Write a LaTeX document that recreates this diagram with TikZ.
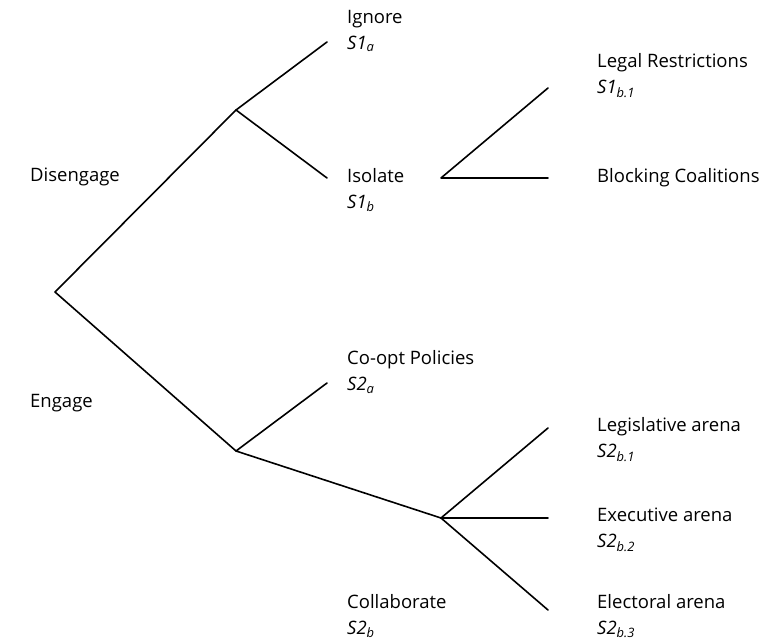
\documentclass[tikz,border=0pt]{standalone}
\usepackage{fontspec}
\setmainfont{Open Sans}
\usetikzlibrary{positioning}

\tikzset{
  branch/.style={line width=1.6pt, line cap=round, line join=round},
  lbl/.style={anchor=west, align=left, inner sep=0pt, font=\fontsize{18.5}{26}\selectfont}
}
\newcommand{\strat}[2]{\textit{S#1}\textsubscript{\textit{#2}}}

\begin{document}
\begin{tikzpicture}[x=1pt, y=-1pt]
    % 0. Page frame (same size as the reference)
    \useasboundingbox (0,0) rectangle (781,644);

    % 1. Branch points and free ends
    \coordinate (root) at (55,292);
    \coordinate (dis) at (236,110);
    \coordinate (eng) at (236,451);
    \coordinate (iso) at (441,178);
    \coordinate (col) at (441,518);
    \coordinate (ignEnd) at (327,42);
    \coordinate (isoEnd) at (327,178);
    \coordinate (legEnd) at (548,88);
    \coordinate (blkEnd) at (548,178);
    \coordinate (coEnd) at (327,383);
    \coordinate (lgsEnd) at (548,428);
    \coordinate (exeEnd) at (548,518);
    \coordinate (eleEnd) at (548,610);

    % 2. Labels
    \node[lbl] (disengage) at (30,177) {Disengage};
    \node[lbl] (engage) at (30,403) {Engage};
    \node[lbl] (ignore) at (347,31) {Ignore\\ \strat{1}{a}};
    \node[lbl] (isolate) at (347,190) {Isolate\\ \strat{1}{b}};
    \node[lbl] (coopt) at (347,372) {Co-opt Policies\\ \strat{2}{a}};
    \node[lbl] (collab) at (347,616) {Collaborate\\ \strat{2}{b}};
    \node[lbl] (legal) at (597,76) {Legal Restrictions\\ \strat{1}{b.1}};
    \node[lbl] (block) at (597,178) {Blocking Coalitions};
    \node[lbl] (legis) at (597,440) {Legislative arena\\ \strat{2}{b.1}};
    \node[lbl] (exec) at (597,530) {Executive arena\\ \strat{2}{b.2}};
    \node[lbl] (elect) at (597,616) {Electoral arena\\ \strat{2}{b.3}};

    % 3. The tree
    \draw[branch] (dis) -- (root) -- (eng);
    \draw[branch] (ignEnd) -- (dis) -- (isoEnd);
    \draw[branch] (legEnd) -- (iso) -- (blkEnd);
    \draw[branch] (coEnd) -- (eng) -- (col);
    \draw[branch] (lgsEnd) -- (col) -- (eleEnd);
    \draw[branch] (col) -- (exeEnd);
\end{tikzpicture}
\end{document}
